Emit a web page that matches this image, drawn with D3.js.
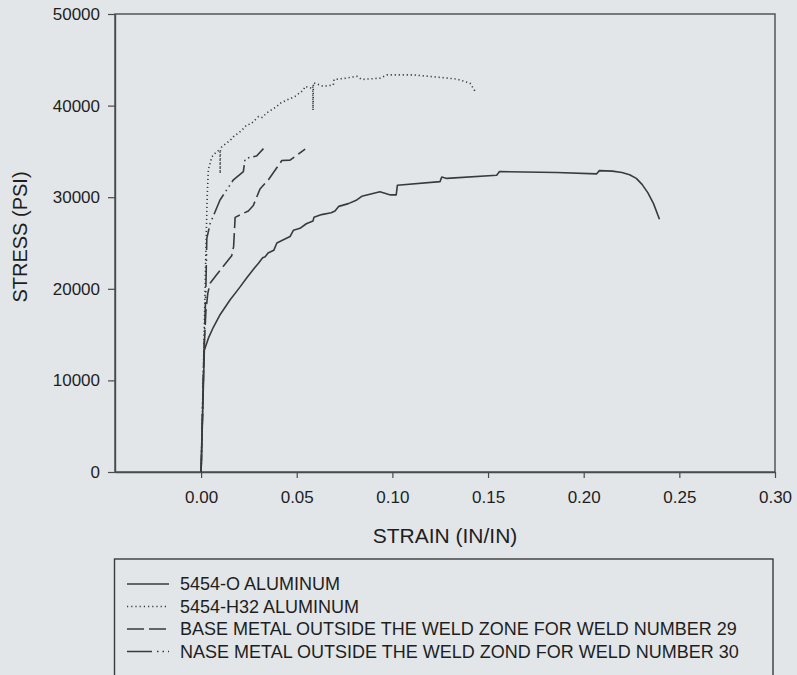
<!DOCTYPE html>
<html>
<head>
<meta charset="utf-8">
<script src="https://cdn.jsdelivr.net/npm/d3@7/dist/d3.min.js"></script>
<style>
  html, body { margin: 0; padding: 0; background: #e2e6e9; }
  svg { display: block; font-family: "Liberation Sans", Arial, Helvetica, sans-serif; }
</style>
</head>
<body>
<svg id="chart" width="797" height="675"></svg>
<script>
// ---- data ----
const xTicks = [0.00, 0.05, 0.10, 0.15, 0.20, 0.25, 0.30];
const yTicks = [0, 10000, 20000, 30000, 40000, 50000];

const s1Strain = [0, 0.0017, 0.0040, 0.0064, 0.0100, 0.0152, 0.0200, 0.0239, 0.0280, 0.0300, 0.0322, 0.0335, 0.0350, 0.0380, 0.0396, 0.0425, 0.0465, 0.0483, 0.0517, 0.0550, 0.0585, 0.0590, 0.0630, 0.0680, 0.0700, 0.0720, 0.0770, 0.0814, 0.0840, 0.0935, 0.0990, 0.1020, 0.1026, 0.1249, 0.1258, 0.1284, 0.1545, 0.1560, 0.1859, 0.2068, 0.2082, 0.2150, 0.2200, 0.2240, 0.2275, 0.2305, 0.2335, 0.2365, 0.2396];
const s1Stress = [0, 13300, 14700, 15800, 17200, 18800, 20100, 21200, 22300, 22800, 23400, 23500, 23900, 24200, 25000, 25300, 25700, 26400, 26600, 27100, 27400, 27800, 28100, 28300, 28500, 29000, 29300, 29700, 30100, 30600, 30250, 30250, 31300, 31700, 32200, 32050, 32400, 32800, 32700, 32550, 32900, 32850, 32700, 32450, 32050, 31400, 30500, 29300, 27600];

const s2Strain = [0, 0.0015, 0.0025, 0.0032, 0.0038, 0.0056, 0.0082, 0.0099, 0.0100, 0.0101, 0.0108, 0.0152, 0.0169, 0.0213, 0.0239, 0.0260, 0.0300, 0.0320, 0.0343, 0.0396, 0.0413, 0.0448, 0.0491, 0.0535, 0.0544, 0.0579, 0.0584, 0.0585, 0.0587, 0.0639, 0.0691, 0.0695, 0.0761, 0.0814, 0.0840, 0.0936, 0.0971, 0.1110, 0.1214, 0.1336, 0.1406, 0.1437];
const s2Stress = [0, 14000, 24000, 30000, 33000, 34400, 35000, 35150, 32600, 35200, 35500, 36200, 36600, 37300, 37900, 38000, 38800, 38700, 39200, 39900, 40250, 40600, 41000, 41700, 42100, 41900, 42100, 39500, 42500, 42100, 42250, 42850, 43000, 43200, 42850, 43000, 43350, 43350, 43150, 42900, 42450, 41400];

const s3Strain = [0, 0.0015, 0.0025, 0.0035, 0.0047, 0.0080, 0.0160, 0.0170, 0.0178, 0.0247, 0.0273, 0.0308, 0.0352, 0.0422, 0.0465, 0.0544];
const s3Stress = [0, 13000, 17500, 19500, 20600, 21500, 23600, 24600, 27800, 28500, 29100, 30900, 31900, 34000, 34050, 35250];

const s4Strain = [0, 0.0015, 0.0025, 0.0030, 0.0047, 0.0099, 0.0169, 0.0221, 0.0230, 0.0256, 0.0290, 0.0326];
const s4Stress = [0, 13000, 20000, 25500, 27100, 29700, 31900, 32800, 34200, 34350, 34500, 35300];

const seriesNames = [
  "5454-O ALUMINUM",
  "5454-H32 ALUMINUM",
  "BASE METAL OUTSIDE THE WELD ZONE FOR WELD NUMBER 29",
  "NASE METAL OUTSIDE THE WELD ZOND FOR WELD NUMBER 30"
];
const xTitle = "STRAIN (IN/IN)";
const yTitle = "STRESS (PSI)";

// ---- build ----
const series = [
  { name: seriesNames[0], xs: s1Strain, ys: s1Stress, dash: null, legDash: null },
  { name: seriesNames[1], xs: s2Strain, ys: s2Stress, dash: "1.2,2.8", legDash: "1.2,3" },
  { name: seriesNames[2], xs: s3Strain, ys: s3Stress, dash: "16,5", legDash: "17,5" },
  { name: seriesNames[3], xs: s4Strain, ys: s4Stress, dash: "22,4,1.5,4,1.5,4", legDash: "25,5,1.5,4,1.5,4" }
];

const ink = "#3a3a3a";
const txt = "#1e1e1e";
const svg = d3.select("#chart");
const L = 115, R = 775, T = 14, B = 472;

const x = d3.scaleLinear().domain([-0.045, 0.30]).range([L, R]);
const y = d3.scaleLinear().domain([0, 50000]).range([B, T]);

// frame
svg.append("rect").attr("x", L).attr("y", T).attr("width", R - L).attr("height", B - T)
  .attr("fill", "none").attr("stroke", "#4a4a4a").attr("stroke-width", 1.4);

// axes
const xAxis = svg.append("g").attr("transform", `translate(0,${B})`)
  .call(d3.axisBottom(x).tickValues(xTicks).tickFormat(d3.format(".2f")).tickSize(6).tickSizeOuter(0));
const yAxis = svg.append("g").attr("transform", `translate(${L},0)`)
  .call(d3.axisLeft(y).tickValues(yTicks).tickFormat(d => String(d)).tickSize(7).tickSizeOuter(0));
[xAxis, yAxis].forEach(g => {
  g.select(".domain").attr("stroke", "#4a4a4a").attr("stroke-width", 1.4);
  g.selectAll(".tick line").attr("stroke", "#4a4a4a").attr("stroke-width", 1.2);
  g.selectAll(".tick text").attr("fill", txt).attr("font-size", 17)
    .attr("font-family", "Liberation Sans, Arial, sans-serif");
});
xAxis.selectAll(".tick text").attr("dy", 0).attr("y", 31);
yAxis.selectAll(".tick text").attr("x", -15);

// titles
svg.append("text").attr("x", (L + R) / 2).attr("y", 543).attr("text-anchor", "middle")
  .attr("font-size", 21).attr("fill", txt).text(xTitle);
svg.append("text").attr("transform", `translate(27,${(T + B) / 2 - 6}) rotate(-90)`)
  .attr("text-anchor", "middle").attr("font-size", 20).attr("fill", txt).text(yTitle);

// lines
const line = d3.line().x(d => x(d[0])).y(d => y(d[1]));
series.forEach(s => {
  const pts = s.xs.map((v, i) => [v, s.ys[i]]);
  svg.append("path").datum(pts).attr("d", line)
    .attr("fill", "none").attr("stroke", ink).attr("stroke-width", 1.6)
    .attr("stroke-linejoin", "round")
    .attr("stroke-dasharray", s.dash);
});

// legend
const lg = svg.append("g");
lg.append("rect").attr("x", 114.5).attr("y", 559).attr("width", 658.5).attr("height", 130)
  .attr("fill", "none").attr("stroke", "#3a3a3a").attr("stroke-width", 1.4);
series.forEach((s, i) => {
  const cy = 584 + i * 22.5;
  lg.append("line").attr("x1", 127).attr("x2", 169).attr("y1", cy).attr("y2", cy)
    .attr("stroke", ink).attr("stroke-width", 1.5).attr("stroke-dasharray", s.legDash);
  lg.append("text").attr("x", 180).attr("y", cy).attr("dy", "0.36em")
    .attr("font-size", 18).attr("fill", txt).text(s.name);
});
</script>
</body>
</html>
